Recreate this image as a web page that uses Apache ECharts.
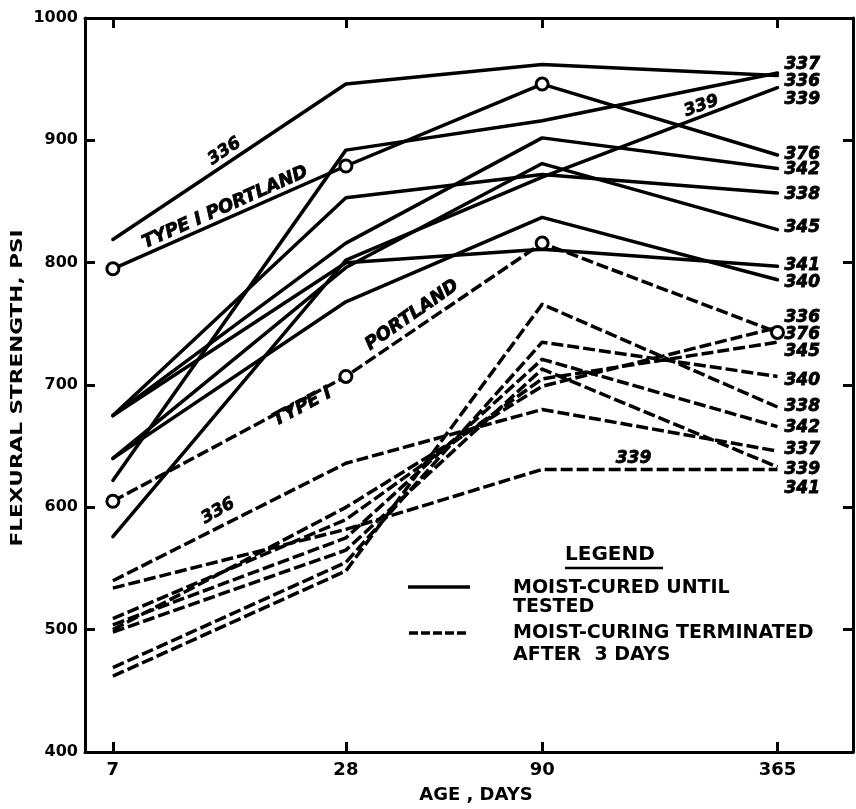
<!DOCTYPE html>
<html>
<head>
<meta charset="utf-8">
<script src="https://cdn.jsdelivr.net/npm/echarts@6/dist/echarts.min.js"></script>
<style>
  html, body { margin: 0; padding: 0; background: #fff; }
  #chart { width: 856px; height: 809px; }
</style>
</head>
<body>
<div id="chart"></div>
<script>
// Test ages (days), plotted on a logarithmic age axis
const ages = [7, 28, 90, 365];
const axisDaysMin = 5.93;
const axisDaysMax = 572;
const strengthTicks = [400, 500, 600, 700, 800, 900, 1000];

// Flexural strength, psi — moist-cured until tested
const cured336 = [819, 946, 962, 953];
const cured376 = [795, 879, 946, 888];
const cured337 = [622, 892, 916, 955];
const cured339 = [576, 802, 870, 943];
const cured342 = [675, 816, 902, 877];
const cured338 = [675, 853, 872, 857];
const cured345 = [640, 796, 881, 827];
const cured341 = [675, 800, 811, 797];
const cured340 = [640, 768, 837, 786];

// Flexural strength, psi — moist-curing terminated after 3 days
const term376 = [605, 707, 816, 743];
const term336 = [500, 600, 699, 747];
const term345 = [509, 590, 705, 735];
const term340 = [469, 555, 735, 707];
const term338 = [462, 548, 766, 682];
const term342 = [504, 575, 721, 666];
const term337 = [540, 636, 680, 646];
const term339 = [534, 582, 631, 631];
const term341 = [498, 565, 713, 633];

// Ages at which the Type I portland curves carry an open circle
const curedCircleAges = [7, 28, 90];
const termCircleAges = [7, 28, 90, 365];

// Cement numbers listed at the 365-day end of each group
const curedEndLabels = ['337', '336', '339', '376', '342', '338', '345', '341', '340'];
const curedEndPsi    = [962, 948, 933, 888, 876, 856, 829, 798, 784];
const termEndLabels  = ['336', '376', '345', '340', '338', '342', '337', '339', '341'];
const termEndPsi     = [755, 741, 727, 704, 682, 665, 647, 631, 615];

// Notes written along the curves: text, age (days), psi, angle (deg)
const noteTexts  = ['336', 'TYPE I PORTLAND', 'TYPE I', 'PORTLAND', '336', '339', '339'];
const noteDays   = [13.6, 13.65, 21.6, 41.5, 13.1, 232, 155];
const notePsi    = [891, 845, 682, 757, 597, 928, 640];
const noteAngles = [34, 24, 28, 35, 30, 20, 0];
const noteSizes  = [17, 18, 18, 18, 17, 17, 17];

const lg = Math.log10;
const INK = '#000';

function curve(name, values, dashed, circleAges) {
  const circles = circleAges && circleAges.length > 0;
  return {
    type: 'line',
    name: name,
    data: ages.map((d, i) => {
      const item = { value: [lg(d), values[i]] };
      if (circles && circleAges.indexOf(d) < 0) item.symbol = 'none';
      return item;
    }),
    symbol: circles ? 'circle' : 'none',
    showSymbol: !!circles,
    symbolSize: 12,
    itemStyle: { color: '#fff', borderColor: INK, borderWidth: 3 },
    lineStyle: {
      color: INK, width: 3.5,
      type: dashed ? [12, 4] : 'solid',
      cap: dashed ? 'butt' : 'round', join: 'round'
    },
    z: circles ? 4 : 3,
    silent: true,
    animation: false
  };
}

const series = [
  curve('336', cured336, false),
  curve('376', cured376, false, curedCircleAges),
  curve('337', cured337, false),
  curve('339', cured339, false),
  curve('342', cured342, false),
  curve('338', cured338, false),
  curve('345', cured345, false),
  curve('341', cured341, false),
  curve('340', cured340, false),
  curve('376 (3 days)', term376, true, termCircleAges),
  curve('336 (3 days)', term336, true),
  curve('345 (3 days)', term345, true),
  curve('340 (3 days)', term340, true),
  curve('338 (3 days)', term338, true),
  curve('342 (3 days)', term342, true),
  curve('337 (3 days)', term337, true),
  curve('339 (3 days)', term339, true),
  curve('341 (3 days)', term341, true)
];

const labelFont = {
  color: INK, opacity: 1, fontFamily: 'DejaVu Sans', fontWeight: 'bold', fontStyle: 'italic',
  textBorderColor: INK, textBorderWidth: 0.8
};

// Cement numbers at the right-hand end
series.push({
  type: 'scatter',
  silent: true,
  animation: false,
  symbolSize: 0.1,
  itemStyle: { color: INK, opacity: 1 },
  data: curedEndLabels.map((t, i) => ({ name: t, value: [lg(365), curedEndPsi[i]] }))
    .concat(termEndLabels.map((t, i) => ({ name: t, value: [lg(365), termEndPsi[i]] }))),
  label: Object.assign({ show: true, position: 'right', distance: 7, fontSize: 17,
    formatter: p => p.name }, labelFont),
  z: 5
});

// Notes along the curves
series.push({
  type: 'scatter',
  silent: true,
  animation: false,
  symbolSize: 0.1,
  itemStyle: { color: INK, opacity: 1 },
  data: noteTexts.map((t, i) => ({
    name: t,
    value: [lg(noteDays[i]), notePsi[i]],
    label: { rotate: noteAngles[i], fontSize: noteSizes[i] }
  })),
  label: Object.assign({ show: true, position: 'inside', formatter: p => p.name }, labelFont),
  z: 5
});

const tickVals = ages.map(lg);
const frameLine = { show: true, onZero: false, lineStyle: { color: INK, width: 3 } };
const tickStyle = { show: true, inside: true, length: 10, lineStyle: { color: INK, width: 3 } };

const option = {
  backgroundColor: '#fff',
  animation: false,
  grid: { left: 85, right: 3, top: 18, bottom: 56, containLabel: false },
  xAxis: [
    {
      type: 'value', position: 'bottom',
      min: lg(axisDaysMin), max: lg(axisDaysMax),
      axisLine: frameLine,
      axisTick: Object.assign({ customValues: tickVals }, tickStyle),
      axisLabel: {
        customValues: tickVals, margin: 9,
        formatter: v => String(Math.round(Math.pow(10, v))),
        color: INK, fontFamily: 'DejaVu Sans', fontWeight: 'bold', fontSize: 18
      },
      splitLine: { show: false },
      name: 'AGE , DAYS', nameLocation: 'middle', nameGap: 34,
      nameTextStyle: { color: INK, fontFamily: 'DejaVu Sans', fontWeight: 'bold', fontSize: 18,
        padding: [0, 0, 0, 14] }
    },
    {
      type: 'value', position: 'top',
      min: lg(axisDaysMin), max: lg(axisDaysMax),
      axisLine: frameLine,
      axisTick: Object.assign({ customValues: tickVals }, tickStyle),
      axisLabel: { show: false },
      splitLine: { show: false }
    }
  ],
  yAxis: [
    {
      type: 'value', position: 'left',
      min: strengthTicks[0], max: strengthTicks[strengthTicks.length - 1], interval: 100,
      axisLine: frameLine,
      axisTick: tickStyle,
      axisLabel: {
        margin: 7, formatter: v => String(v),
        color: INK, fontFamily: 'DejaVu Sans', fontWeight: 'bold', fontSize: 16
      },
      splitLine: { show: false }
    },
    {
      type: 'value', position: 'right',
      min: strengthTicks[0], max: strengthTicks[strengthTicks.length - 1], interval: 100,
      axisLine: frameLine,
      axisTick: tickStyle,
      axisLabel: { show: false },
      splitLine: { show: false }
    }
  ],
  graphic: [
    {
      type: 'text', x: 18, y: 388, rotation: Math.PI / 2, scaleX: 1.35,
      style: { text: 'FLEXURAL STRENGTH, PSI', fill: INK, font: 'bold 16px "DejaVu Sans"',
        align: 'center', verticalAlign: 'middle' }
    },
    // Legend block
    {
      type: 'text', x: 565, y: 555,
      style: { text: 'LEGEND', fill: INK, font: 'bold 20px "DejaVu Sans"', align: 'left', verticalAlign: 'middle' }
    },
    { type: 'line', shape: { x1: 565, y1: 568, x2: 663, y2: 568 }, style: { stroke: INK, lineWidth: 2.5 } },
    { type: 'line', shape: { x1: 408, y1: 587, x2: 470, y2: 587 }, style: { stroke: INK, lineWidth: 3.5 } },
    {
      type: 'text', x: 513, y: 588,
      style: { text: 'MOIST-CURED UNTIL', fill: INK, font: 'bold 19px "DejaVu Sans"', align: 'left', verticalAlign: 'middle' }
    },
    {
      type: 'text', x: 513, y: 607,
      style: { text: 'TESTED', fill: INK, font: 'bold 19px "DejaVu Sans"', align: 'left', verticalAlign: 'middle' }
    },
    { type: 'line', shape: { x1: 409, y1: 633, x2: 469, y2: 633 }, style: { stroke: INK, lineWidth: 3.5, lineDash: [9, 3] } },
    {
      type: 'text', x: 513, y: 633,
      style: { text: 'MOIST-CURING TERMINATED', fill: INK, font: 'bold 19px "DejaVu Sans"', align: 'left', verticalAlign: 'middle' }
    },
    {
      type: 'text', x: 513, y: 655,
      style: { text: 'AFTER  3 DAYS', fill: INK, font: 'bold 19px "DejaVu Sans"', align: 'left', verticalAlign: 'middle' }
    }
  ],
  series: series
};

const chart = echarts.init(document.getElementById('chart'), null, { renderer: 'canvas' });
chart.setOption(option);
</script>
</body>
</html>
